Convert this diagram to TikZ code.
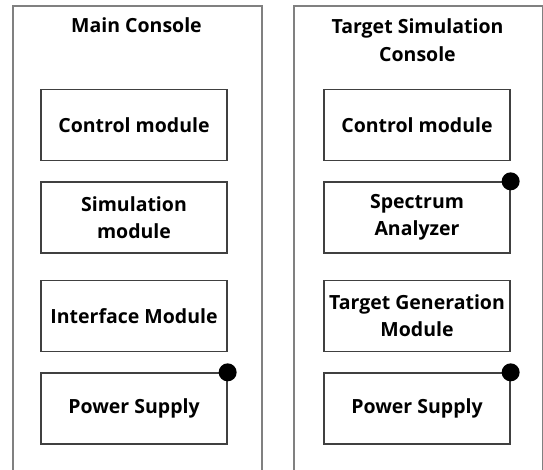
\documentclass[tikz,border=0pt]{standalone}
\usepackage{fontspec}
\setmainfont{Open Sans}
\begin{document}
\begin{tikzpicture}[x=1pt,y=-1pt,
  outerbox/.style={draw=black!50, line width=1.6pt},
  modbox/.style={draw=black!75, line width=1.3pt, fill=white, minimum width=186pt, minimum height=71pt, align=center, inner sep=0pt, font=\fontsize{19.5}{27}\selectfont\bfseries},
  titletext/.style={align=center, font=\fontsize{19.5}{28}\selectfont\bfseries, inner sep=0pt},
  dot/.style={circle, fill=black, minimum size=18pt, inner sep=0pt}]
\useasboundingbox (0,0) rectangle (543,470);
\node[outerbox, draw, minimum width=249pt, minimum height=466pt, inner sep=0pt, anchor=north west] (mainc) at (12,5) {};
\node[outerbox, draw, minimum width=249pt, minimum height=466pt, inner sep=0pt, anchor=north west] (tgtc) at (293,5) {};
\node[titletext] (t1) at (136.5,25) {Main Console};
\node[titletext] (t2) at (417.5,40) {Target Simulation\\Console};
% left column
\node[modbox] (lc) at (134,125) {Control module};
\node[modbox] (ls) at (134,217.5) {Simulation\\module};
\node[modbox] (li) at (134,316) {Interface Module};
\node[modbox] (lp) at (134,408.5) {Power Supply};
% right column
\node[modbox] (rc) at (417,125) {Control module};
\node[modbox] (rs) at (417,217.5) {Spectrum\\Analyzer};
\node[modbox] (rt) at (417,316) {Target Generation\\Module};
\node[modbox] (rp) at (417,408.5) {Power Supply};
% dots
\node[dot] (d1) at (lp.north east) {};
\node[dot] (d2) at (rs.north east) {};
\node[dot] (d3) at (rp.north east) {};
\end{tikzpicture}
\end{document}
